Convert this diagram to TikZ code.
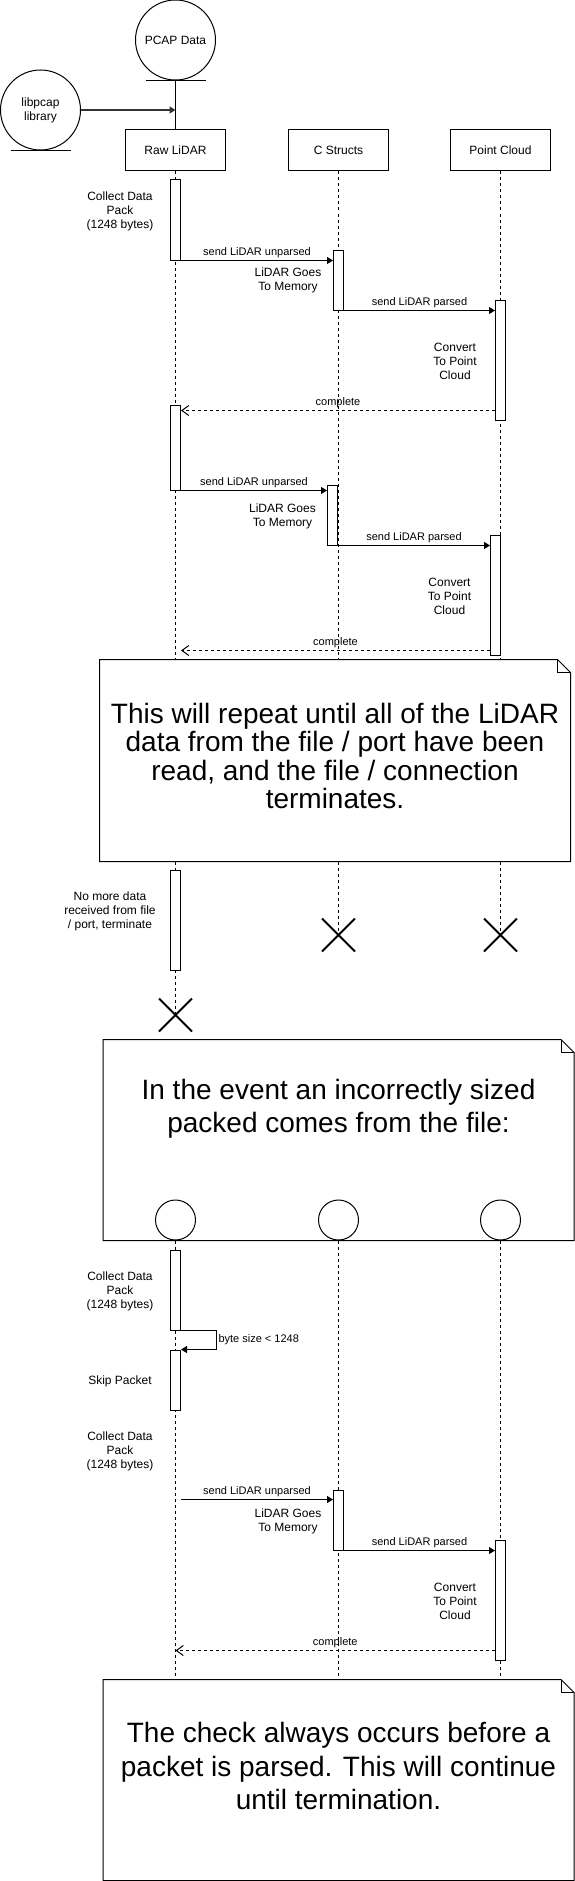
\documentclass[tikz,border=0pt]{standalone}
\usepackage{fontspec}
\setmainfont{Liberation Sans}
\usepackage{tikz}
\usetikzlibrary{arrows.meta,positioning,shapes.geometric,shapes.misc}
\tikzset{
  lifebox/.style={ draw, fill=white, minimum width=100pt, minimum height=41pt, font=\fontsize{12}{14}\selectfont }
}
\tikzset{
  entity/.style={ draw, circle, fill=white, inner sep=0pt, align=center, font=\fontsize{12}{14}\selectfont }
}
\tikzset{
  actbar/.style={ draw, fill=white, minimum width=10pt, inner sep=0pt }
}
\tikzset{
  txt/.style={ align=center, font=\fontsize{12}{14}\selectfont },
  msglbl/.style={ font=\fontsize{11}{13}\selectfont, inner sep=2pt },
  msg/.style={ -{Triangle[length=6pt,width=7pt]} },
  ret/.style={ dash pattern=on 3pt off 3pt, -{Straight Barb[length=7pt,width=10pt]} },
  life/.style={ dash pattern=on 3pt off 3pt },
  kill/.style={ draw, cross out, line width=2pt, minimum size=31pt, inner sep=0pt },
  notebox/.style={ fill=white, minimum width=470pt, inner sep=0pt },
  notetxt/.style={ align=center }
}

\begin{document}
\begin{tikzpicture}[x=1pt, y=-1pt, line width=1pt]
      \useasboundingbox (0,0) rectangle (574,1881);

      \node[entity, minimum size=80pt] (pcap) at (175.5, 40) {PCAP Data};
      \node[entity, minimum size=80pt] (lib) at (40.5, 110) {libpcap\\library};
      \draw ([xshift=-30pt]pcap.south) -- ([xshift=30pt]pcap.south);
      \draw ([xshift=-30pt]lib.south) -- ([xshift=30pt]lib.south);

      \node[lifebox] (raw) at (175.5, 150.5) {Raw LiDAR};
      \node[lifebox] (cst) at (338.5, 150.5) {C Structs};
      \node[lifebox] (pcl) at (500.5, 150.5) {Point Cloud};

      \draw (pcap.south) -- (raw.north);
      \draw[msg, draw=black!80, fill=black, line width=1.3pt] (lib.east) -- (lib.east -| pcap.south);

      \node[kill] (xraw) at (175.5, 1015) {};
      \node[kill] (xcst) at (338.5, 935) {};
      \node[kill] (xpcl) at (500.5, 935) {};

      \draw[life] (raw.south) -- (xraw.center);
      \draw[life] (cst.south) -- (xcst.center);
      \draw[life] (pcl.south) -- (xpcl.center);

      % first packet
      \node[actbar, minimum height=80pt] (r1) at (175.5, 220) {};
      \node[actbar, minimum height=60pt] (c1) at (338.5, 280) {};
      \node[actbar, minimum height=120pt] (p1) at (500.5, 360) {};
      \node[txt] (t1) at (120, 211) {Collect Data\\Pack\\(1248 bytes)};
      \node[txt] (t2) at (288, 280.5) {LiDAR Goes\\To Memory};
      \node[txt] (t3) at (455, 361) {Convert\\To Point\\Cloud};
      \draw[msg] (r1.south east) -- node[msglbl, above] {send LiDAR unparsed} (r1.south east -| c1.west);
      \draw[msg] (c1.south east) -- node[msglbl, above] {send LiDAR parsed} (c1.south east -| p1.west);

      % second packet
      \node[actbar, minimum height=85pt] (r2) at (175.5, 447.5) {};
      \node[actbar, minimum height=60pt] (c2) at (332.5, 515) {};
      \node[actbar, minimum height=120pt] (p2) at (495.5, 595) {};
      \node[txt] (t4) at (282.5, 516) {LiDAR Goes\\To Memory};
      \node[txt] (t5) at (449.5, 596) {Convert\\To Point\\Cloud};
      \draw[ret] ([yshift=10pt]p1.south west) -- node[msglbl, above] {complete} ([yshift=10pt]p1.south west -| r2.east);
      \draw[msg] (r2.south east) -- node[msglbl, above] {send LiDAR unparsed} (r2.south east -| c2.west);
      \draw[msg] (c2.south east) -- node[msglbl, above] {send LiDAR parsed} (c2.south east -| p2.west);
      \draw[ret] ([yshift=5pt]p2.south west) -- node[msglbl, above] {complete} ([yshift=5pt]p2.south west -| r2.east);

      \node[notebox, minimum height=201pt] (note1) at (335, 760.5) {};
      \draw (note1.north west) -- ([xshift=-13pt]note1.north east) -- ([yshift=-13pt]note1.north east) -- (note1.south east) -- (note1.south west) -- cycle;
      \draw ([xshift=-13pt]note1.north east) |- ([yshift=-13pt]note1.north east);
      \node[notetxt, font=\fontsize{28}{28.3}\selectfont] (n1txt) at (335, 756) {This will repeat until all of the LiDAR\\data from the file / port have been\\read, and the file / connection\\terminates.};

      % end of data
      \node[actbar, minimum height=100pt] (r3) at (175.5, 920) {};
      \node[txt] (t6) at (110, 911) {No more data\\received from file\\/ port, terminate};

      % wrong packet size
      \node[notebox, minimum height=200pt] (note2) at (338.5, 1140) {};
      \draw (note2.north west) -- ([xshift=-13pt]note2.north east) -- ([yshift=-13pt]note2.north east) -- (note2.south east) -- (note2.south west) -- cycle;
      \draw ([xshift=-13pt]note2.north east) |- ([yshift=-13pt]note2.north east);
      \node[notetxt, font=\fontsize{28}{33.3}\selectfont] (n2txt) at (338.5, 1109) {In the event an incorrectly sized\\packed comes from the file:};

      \node[entity, minimum size=40pt] (e1) at (175.5, 1220) {};
      \node[entity, minimum size=40pt] (e2) at (338.5, 1220) {};
      \node[entity, minimum size=40pt] (e3) at (500.5, 1220) {};

      \node[notebox, minimum height=200pt] (note3) at (338.5, 1780) {};
      \draw[life] (e1.south) -- (e1.south |- note3.north);
      \draw[life] (e2.south) -- (e2.south |- note3.north);
      \draw[life] (e3.south) -- (e3.south |- note3.north);

      \node[actbar, minimum height=80pt] (rs1) at (175.5, 1290) {};
      \node[actbar, minimum height=60pt] (rs2) at (175.5, 1380) {};
      \node[txt] (t7) at (120, 1291) {Collect Data\\Pack\\(1248 bytes)};
      \node[txt] (t8) at (120, 1381) {Skip Packet};
      \node[txt] (t9) at (120, 1451) {Collect Data\\Pack\\(1248 bytes)};
      \draw[msg] (rs1.south east) -- ++(35, 0) |- node[pos=0.25, msglbl, right] {byte size < 1248} (rs2.north east);

      \node[actbar, minimum height=60pt] (c3) at (338.5, 1520) {};
      \node[actbar, minimum height=120pt] (p3) at (500.5, 1600) {};
      \node[txt] (t10) at (288, 1521) {LiDAR Goes\\To Memory};
      \node[txt] (t11) at (455, 1601) {Convert\\To Point\\Cloud};
      \draw[msg] ([yshift=-10pt]c3.north west -| rs2.east) -- node[msglbl, above] {send LiDAR unparsed} ([yshift=-10pt]c3.north west);
      \draw[msg] (c3.south east) -- node[msglbl, above] {send LiDAR parsed} (c3.south east -| p3.west);
      \draw[ret] ([yshift=10pt]p3.south west) -- node[msglbl, above] {complete} ([yshift=10pt]p3.south west -| e1.south);

      \draw (note3.north west) -- ([xshift=-13pt]note3.north east) -- ([yshift=-13pt]note3.north east) -- (note3.south east) -- (note3.south west) -- cycle;
      \draw ([xshift=-13pt]note3.north east) |- ([yshift=-13pt]note3.north east);
      \node[notetxt, font=\fontsize{28}{33.3}\selectfont] (n3txt) at (338.5, 1766) {The check always occurs before a\\packet is parsed. This will continue\\until termination.};
    \end{tikzpicture}
\end{document}
